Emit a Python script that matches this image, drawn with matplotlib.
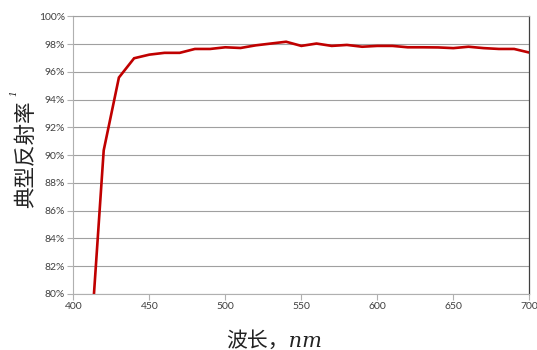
import matplotlib
matplotlib.use("Agg")
import matplotlib.pyplot as plt
from matplotlib.ticker import FuncFormatter, MultipleLocator

wavelength = [410, 420, 430, 440, 450, 460, 470, 480, 490, 500, 510, 520, 530, 540,
              550, 560, 570, 580, 590, 600, 610, 620, 630, 640, 650, 660, 670, 680, 690, 700]
reflectance = [74.2, 90.35, 95.6, 96.99, 97.25, 97.38, 97.38, 97.66, 97.66, 97.78, 97.73,
               97.92, 98.05, 98.18, 97.88, 98.05, 97.88, 97.95, 97.82, 97.88, 97.88, 97.78,
               97.78, 97.77, 97.72, 97.82, 97.72, 97.66, 97.66, 97.4]

x_ticks = [400, 450, 500, 550, 600, 650, 700]
y_label = "典型反射率"
x_label = "波长，nm"

plt.rcParams['font.family'] = ['Lato', 'Noto Sans CJK SC', 'DejaVu Sans']

fig = plt.figure(figsize=(5.37, 3.5), dpi=100)
ax = fig.add_axes([0.1365, 0.16, 0.8492, 0.7929])

ax.plot(wavelength, reflectance, color='#C00000', lw=1.9, solid_joinstyle='miter', clip_on=True)

ax.set_xlim(400, 700)
ax.set_ylim(80, 100)
ax.set_xticks(x_ticks)
ax.yaxis.set_major_locator(MultipleLocator(2))
ax.yaxis.set_major_formatter(FuncFormatter(lambda v, p: f"{v:.0f}%"))

ax.grid(axis='y', color='#a0a0a0', lw=0.8)
ax.set_axisbelow(True)

for side in ['left', 'bottom']:
    ax.spines[side].set_color('#b0b0b0')
    ax.spines[side].set_linewidth(0.8)
ax.spines['top'].set_color('#a0a0a0')
ax.spines['top'].set_linewidth(0.8)
ax.spines['right'].set_color('#404040')
ax.spines['right'].set_linewidth(0.9)

ax.tick_params(axis='both', which='major', labelsize=7.5, colors='#595959',
               length=4, width=0.8, direction='out', pad=2)
ax.tick_params(axis='both', color='#b0b0b0')
for lab in ax.get_xticklabels() + ax.get_yticklabels():
    lab.set_color('#404040')

fig.text(0.0484, 0.56, y_label, rotation=90, ha='center', va='center',
         fontsize=15.5, style='italic', family=['Noto Sans CJK SC', 'DejaVu Sans'], color='#222222')
fig.text(0.025, 0.735, "1", rotation=90, ha='center', va='center',
         fontsize=6.5, style='italic', family=['DejaVu Serif'], color='#222222')

fig.text(0.510, 0.026, x_label, ha='center', va='center', fontsize=15, style='italic',
         family=['DejaVu Serif', 'Noto Sans CJK SC'], color='#222222')

fig.savefig("out.png", dpi=100)
